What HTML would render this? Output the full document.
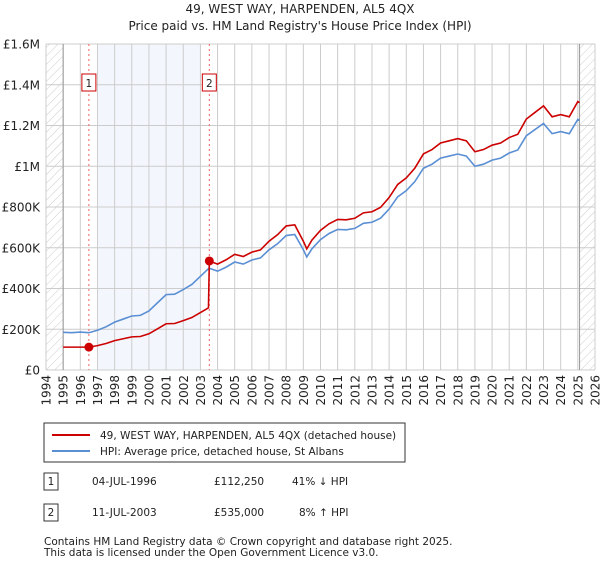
<!DOCTYPE html>
<html><head><meta charset="utf-8"><style>
body{margin:0;background:#fff;font-family:"DejaVu Sans","Liberation Sans",sans-serif;}
svg text{font-family:"DejaVu Sans","Liberation Sans",sans-serif;}
</style></head><body>
<svg id="chart" width="600" height="560" xmlns="http://www.w3.org/2000/svg">
<defs><pattern id="hatch" width="6" height="6" patternUnits="userSpaceOnUse" patternTransform="rotate(45)"><line x1="0" y1="0" x2="0" y2="6" stroke="#ccc" stroke-width="1"/></pattern></defs>
<text x="300" y="13" text-anchor="middle" font-size="12" fill="#222">49, WEST WAY, HARPENDEN, AL5 4QX</text>
<text x="300" y="30" text-anchor="middle" font-size="12" fill="#222">Price paid vs. HM Land Registry's House Price Index (HPI)</text>
<g id="plot"></g>
<g>
<rect x="44" y="423" width="361" height="39" fill="#fff" stroke="#333"/>
<line x1="52" y1="435" x2="90" y2="435" stroke="#cc0000" stroke-width="2"/>
<text x="100" y="439" font-size="10.5" fill="#222">49, WEST WAY, HARPENDEN, AL5 4QX (detached house)</text>
<line x1="52" y1="451" x2="90" y2="451" stroke="#5b8fd4" stroke-width="2"/>
<text x="100" y="455" font-size="10.5" fill="#222">HPI: Average price, detached house, St Albans</text>
</g>
<g font-size="10.5" fill="#222">
<rect x="44" y="473" width="14" height="17" fill="#fff" stroke="#333"/><text x="51" y="485" text-anchor="middle">1</text>
<text x="92" y="485">04-JUL-1996</text><text x="214" y="485">£112,250</text><text x="292" y="485">41% ↓ HPI</text>
<rect x="44" y="504" width="14" height="17" fill="#fff" stroke="#333"/><text x="51" y="516" text-anchor="middle">2</text>
<text x="92" y="516">11-JUL-2003</text><text x="214" y="516">£535,000</text><text x="299" y="516">8% ↑ HPI</text>
</g>
<text x="44" y="545" font-size="10.5" fill="#222">Contains HM Land Registry data © Crown copyright and database right 2025.</text>
<text x="44" y="556" font-size="10.5" fill="#222">This data is licensed under the Open Government Licence v3.0.</text>
</svg>
<script>
const hpiYears=[1995,1995.5,1996,1996.5,1997,1997.5,1998,1998.5,1999,1999.5,2000,2000.5,2001,2001.5,2002,2002.5,2003,2003.5,2004,2004.5,2005,2005.5,2006,2006.5,2007,2007.5,2008,2008.5,2009,2009.2,2009.5,2010,2010.5,2011,2011.5,2012,2012.5,2013,2013.5,2014,2014.5,2015,2015.5,2016,2016.5,2017,2017.5,2018,2018.5,2019,2019.5,2020,2020.5,2021,2021.5,2022,2022.5,2023,2023.5,2024,2024.5,2025,2025.1];
const hpiValues=[185,183,186,183,195,212,235,250,265,268,290,330,370,372,395,420,460,500,485,505,530,520,540,550,590,620,660,665,590,555,595,640,670,690,688,695,720,725,745,790,850,880,925,990,1010,1040,1050,1060,1050,1000,1010,1030,1040,1065,1080,1150,1180,1210,1160,1170,1160,1230,1225];
const saleYears=[1996.5,2003.52];
const salePrices=[112.25,535];
const yTicks=[0,200,400,600,800,1000,1200,1400,1600];
const yTickLabels=["£0","£200K","£400K","£600K","£800K","£1M","£1.2M","£1.4M","£1.6M"];
const xTicks=[1994,1995,1996,1997,1998,1999,2000,2001,2002,2003,2004,2005,2006,2007,2008,2009,2010,2011,2012,2013,2014,2015,2016,2017,2018,2019,2020,2021,2022,2023,2024,2025,2026];
const X0=46,X1=595,Y0=370,Y1=44;
const xs=y=>X0+(y-1994)/(2026-1994)*(X1-X0);
const ys=v=>Y0-v/1600*(Y0-Y1);
const NS="http://www.w3.org/2000/svg";
const g=document.getElementById('plot');
function mk(t,a){const e=document.createElementNS(NS,t);for(const k in a)e.setAttribute(k,a[k]);g.appendChild(e);return e;}
let e;
e=mk('rect',{x:xs(1997),y:Y1,width:xs(2003)-xs(1997),height:Y0-Y1,fill:'#eef3fc',opacity:0.7});

e=mk('rect',{x:X0,y:Y1,width:xs(1995)-X0,height:Y0-Y1,fill:'url(#hatch)'});

e=mk('rect',{x:xs(2025.1),y:Y1,width:X1-xs(2025.1),height:Y0-Y1,fill:'url(#hatch)'});

yTicks.forEach((v,i)=>{
 e=mk('line',{x1:X0,x2:X1,y1:ys(v),y2:ys(v),stroke:'#ccc'});
 
 e=mk('text',{x:40,y:ys(v)+4.5,'text-anchor':'end','font-size':12,fill:'#222'});e.textContent=yTickLabels[i];
 
});
xTicks.forEach(yr=>{
 e=mk('line',{x1:xs(yr),x2:xs(yr),y1:Y1,y2:Y0,stroke:'#ccc'});
 
 e=mk('text',{x:0,y:0,'text-anchor':'end','font-size':12,fill:'#222',transform:`translate(${xs(yr)+4.5},375) rotate(-90)`});e.textContent=yr;
 
});
e=mk('line',{x1:xs(1995),x2:xs(1995),y1:Y1,y2:Y0,stroke:'#999'});

e=mk('line',{x1:xs(2025.1),x2:xs(2025.1),y1:Y1,y2:Y0,stroke:'#999'});

function hpiAt(t){for(let i=1;i<hpiYears.length;i++){if(t<=hpiYears[i]){const f=(t-hpiYears[i-1])/(hpiYears[i]-hpiYears[i-1]);return hpiValues[i-1]+f*(hpiValues[i]-hpiValues[i-1]);}}return hpiValues[hpiValues.length-1];}
// red: price paid indexed by HPI from each sale
const rp=[];
rp.push([1995,salePrices[0]]);
const r1=salePrices[0]/hpiAt(saleYears[0]);
rp.push([saleYears[0],salePrices[0]]);
hpiYears.forEach((t,i)=>{if(t>saleYears[0]&&t<saleYears[1])rp.push([t,hpiValues[i]*r1]);});
rp.push([saleYears[1]-0.05,hpiAt(saleYears[1])*r1]);
rp.push([saleYears[1],salePrices[1]]);
const r2=salePrices[1]/hpiAt(saleYears[1]);
hpiYears.forEach((t,i)=>{if(t>saleYears[1])rp.push([t,hpiValues[i]*r2]);});
saleYears.forEach((yr,i)=>{
 e=mk('line',{x1:xs(yr),x2:xs(yr),y1:Y1,y2:Y0,stroke:'#f06060','stroke-dasharray':'2,3'});
 
 e=mk('rect',{x:xs(yr)-7,y:74,width:14,height:17,fill:'#fff',stroke:'#cc0000'});
 
 e=mk('text',{x:xs(yr),y:87,'text-anchor':'middle','font-size':10.5,fill:'#222'});e.textContent=String(i+1);
 
});
e=mk('polyline',{points:hpiYears.map((t,i)=>xs(t)+','+ys(hpiValues[i])).join(' '),fill:'none',stroke:'#5b8fd4','stroke-width':1.6});

e=mk('polyline',{points:rp.map(p=>xs(p[0])+','+ys(p[1])).join(' '),fill:'none',stroke:'#cc0000','stroke-width':1.6});

saleYears.forEach((yr,i)=>{
 e=mk('circle',{cx:xs(yr),cy:ys(salePrices[i]),r:4.5,fill:'#cc0000'});
 
});
</script>
</body></html>
